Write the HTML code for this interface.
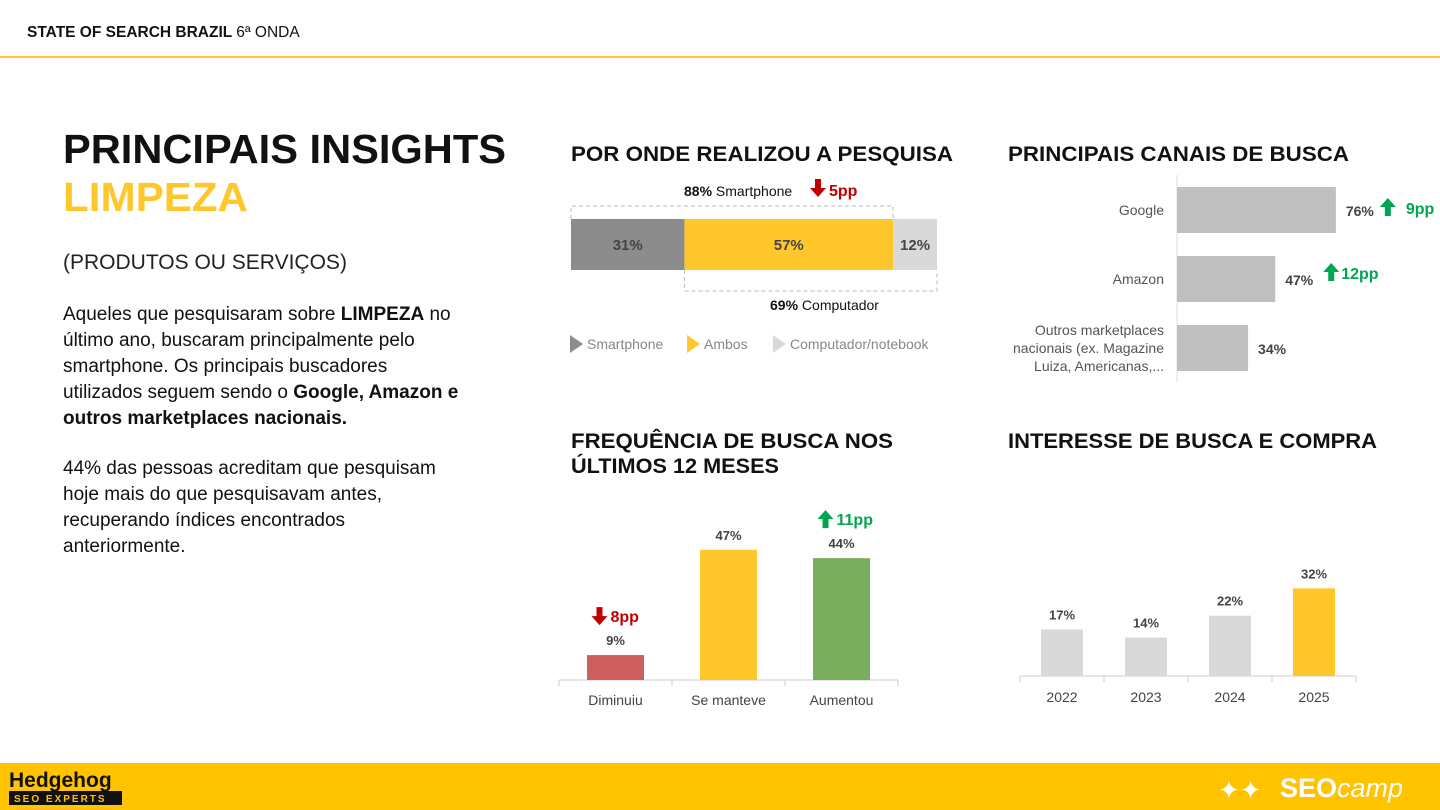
<!DOCTYPE html>
<html><head><meta charset="utf-8"><style>
html,body{margin:0;padding:0;background:#fff;width:1440px;height:810px;overflow:hidden}
svg{display:block;font-family:"Liberation Sans",sans-serif}
</style></head><body>
<svg id="s" width="1440" height="810" viewBox="0 0 1440 810" xmlns="http://www.w3.org/2000/svg">
<g>
<text x="27" y="37" font-size="15.5" font-weight="bold" fill="#111">STATE OF SEARCH BRAZIL <tspan font-weight="normal">6ª ONDA</tspan></text>
<rect x="0" y="56" width="1440" height="2" fill="#FFC72C"/>
</g>
<text x="63" y="163" font-size="41" font-weight="bold" fill="#111" textLength="443" lengthAdjust="spacingAndGlyphs">PRINCIPAIS INSIGHTS</text>
<text x="63" y="211" font-size="41" font-weight="bold" fill="#FFC72C" textLength="185" lengthAdjust="spacingAndGlyphs">LIMPEZA</text>
<text x="63" y="269" font-size="21" fill="#222">(PRODUTOS OU SERVIÇOS)</text>
<g font-size="19" fill="#111">
<text x="63" y="320">Aqueles que pesquisaram sobre <tspan font-weight="bold">LIMPEZA</tspan> no</text>
<text x="63" y="346">último ano, buscaram principalmente pelo</text>
<text x="63" y="372">smartphone. Os principais buscadores</text>
<text x="63" y="398">utilizados seguem sendo o <tspan font-weight="bold">Google, Amazon e</tspan></text>
<text x="63" y="424" font-weight="bold">outros marketplaces nacionais.</text>
<text x="63" y="474">44% das pessoas acreditam que pesquisam</text>
<text x="63" y="500">hoje mais do que pesquisavam antes,</text>
<text x="63" y="526">recuperando índices encontrados</text>
<text x="63" y="552">anteriormente.</text>
</g>
<g font-size="21" font-weight="bold" fill="#111">
<text x="571" y="161" textLength="382" lengthAdjust="spacingAndGlyphs">POR ONDE REALIZOU A PESQUISA</text>
<text x="1008" y="161" textLength="341" lengthAdjust="spacingAndGlyphs">PRINCIPAIS CANAIS DE BUSCA</text>
<text x="571" y="448" textLength="322" lengthAdjust="spacingAndGlyphs">FREQUÊNCIA DE BUSCA NOS</text>
<text x="571" y="473" textLength="208" lengthAdjust="spacingAndGlyphs">ÚLTIMOS 12 MESES</text>
<text x="1008" y="448" textLength="369" lengthAdjust="spacingAndGlyphs">INTERESSE DE BUSCA E COMPRA</text>
</g>
<g id="g1"></g><g id="g2"></g><g id="g3"></g><g id="g4"></g>
<g>
<rect x="0" y="763" width="1440" height="47" fill="#FFC300"/>
<text x="9" y="787" font-size="21" font-weight="bold" fill="#111">Hedgehog</text>
<rect x="9" y="791" width="113" height="14" fill="#111"/>
<text x="14" y="802" font-size="10" font-weight="bold" fill="#FFC300" letter-spacing="2">SEO EXPERTS</text>
<text x="1218" y="799" font-size="26" fill="#fff">✦✦</text>
<text x="1280" y="797" font-size="27" fill="#fff"><tspan font-weight="bold">SEO</tspan><tspan font-style="italic">camp</tspan></text>
</g>
</svg>
<script>
const NS="http://www.w3.org/2000/svg";
function mk(p,t,a,txt){const e=document.createElementNS(NS,t);for(const k in a)e.setAttribute(k,a[k]);if(txt!==undefined)e.textContent=txt;p.appendChild(e);return e;}
function arrow(p,x,y,up,col){const d=up?`M${x-3},${y+9} v-9 h-5 l8,-9 l8,9 h-5 v9 z`:`M${x-3},${y-9} v9 h-5 l8,9 l8,-9 h-5 v-9 z`;return mk(p,'path',{d:d,fill:col});}

// Device stacked bar
const deviceCats=["Smartphone","Ambos","Computador/notebook"];
const deviceVals=[31,57,12];
const deviceColors=["#8C8C8C","#FFC72C","#D9D9D9"];
// Channels
const channelCats=[["Google"],["Amazon"],["Outros marketplaces","nacionais (ex. Magazine","Luiza, Americanas,..."]];
const channelVals=[76,47,34];
const channelDelta=["9pp","12pp",""];
// Frequency
const freqCats=["Diminuiu","Se manteve","Aumentou"];
const freqVals=[9,47,44];
const freqColors=["#CD5F5F","#FFC72C","#7AAE5E"];
const freqDelta=["8pp","","11pp"];
const freqUp=[false,false,true];
// Interest
const yearCats=["2022","2023","2024","2025"];
const yearVals=[17,14,22,32];

const g1=document.getElementById('g1');


{const x0=571,w=366,y=219,h=51;const sx=v=>v/100*w;let cx=x0;
deviceVals.forEach((v,i)=>{const r=mk(g1,'rect',{x:cx,y:y,width:sx(v),height:h,fill:deviceColors[i]});


const t=mk(g1,'text',{x:cx+sx(v)/2,y:y+31,'font-size':15,'font-weight':'bold','text-anchor':'middle',fill:'#444'},v+'%');


cx+=sx(v);});
const sm=deviceVals[0]+deviceVals[1], co=deviceVals[1]+deviceVals[2];
mk(g1,'path',{d:`M${x0},${y} v-13 h${sx(sm)} v13`,fill:'none',stroke:'#bbb','stroke-dasharray':'4,3'});
mk(g1,'path',{d:`M${x0+sx(deviceVals[0])},${y+h} v21 h${sx(co)} v-21`,fill:'none',stroke:'#bbb','stroke-dasharray':'4,3'});
const a=mk(g1,'text',{x:684,y:196,'font-size':14,fill:'#111'});a.innerHTML=`<tspan font-weight="bold">${sm}%</tspan> Smartphone`;


arrow(g1,818,188,false,'#C00000');
mk(g1,'text',{x:829,y:196,'font-size':16,'font-weight':'bold',fill:'#C00000'},'5pp');
const b=mk(g1,'text',{x:770,y:310,'font-size':14,fill:'#111'});b.innerHTML=`<tspan font-weight="bold">${co}%</tspan> Computador`;


const lx=[570,687,773];
deviceCats.forEach((c,i)=>{const lg=mk(g1,'g',{});


mk(lg,'path',{d:`M${lx[i]},335 l13,9 l-13,9 z`,fill:deviceColors[i]});
mk(lg,'text',{x:lx[i]+17,y:349,'font-size':14,fill:'#888'},c);});}

const g2=document.getElementById('g2');


{const x0=1177,sx=v=>v*2.09,yc=[210,279,348],h=46;
mk(g2,'line',{x1:x0,y1:175,x2:x0,y2:382,stroke:'#ddd'});
channelVals.forEach((v,i)=>{const r=mk(g2,'rect',{x:x0,y:yc[i]-h/2,width:sx(v),height:h,fill:'#BFBFBF'});


const lines=channelCats[i];lines.forEach((l,j)=>mk(g2,'text',{x:1164,y:yc[i]+5+(j-(lines.length-1)/2)*18,'font-size':14,'text-anchor':'end',fill:'#555'},l));
const vt=mk(g2,'text',{x:x0+sx(v)+10,y:yc[i]+6,'font-size':14,'font-weight':'bold',fill:'#444'},v+'%');


if(channelDelta[i]){const dx=i==0?x0+sx(v)+44:x0+sx(v)+48;const dy=i==0?yc[i]-3:yc[i]-7;arrow(g2,dx+8,dy,true,'#00A550');
mk(g2,'text',{x:dx+ (i==0?26:18),y:dy+7,'font-size':16,'font-weight':'bold',fill:'#00A550'},channelDelta[i]);}});}

const g3=document.getElementById('g3');


{const base=680,x0=559,cw=113,bw=57,sy=v=>v*2.77;
mk(g3,'line',{x1:x0,y1:base,x2:x0+3*cw,y2:base,stroke:'#ccc'});
for(let i=0;i<=3;i++)mk(g3,'line',{x1:x0+i*cw,y1:base,x2:x0+i*cw,y2:base+6,stroke:'#ccc'});
freqVals.forEach((v,i)=>{const cx=x0+cw*i+cw/2;const r=mk(g3,'rect',{x:cx-bw/2,y:base-sy(v),width:bw,height:sy(v),fill:freqColors[i]});


mk(g3,'text',{x:cx,y:base-sy(v)-10,'font-size':13,'font-weight':'bold','text-anchor':'middle',fill:'#444'},v+'%');
mk(g3,'text',{x:cx,y:705,'font-size':14,'text-anchor':'middle',fill:'#444'},freqCats[i]);
if(freqDelta[i]){const col=freqUp[i]?'#00A550':'#C00000';const ty=base-sy(v)-33;arrow(g3,cx-16,ty-6,freqUp[i],col);
mk(g3,'text',{x:cx-5,y:ty,'font-size':16,'font-weight':'bold',fill:col},freqDelta[i]);}});}

const g4=document.getElementById('g4');


{const base=676,x0=1020,cw=84,bw=42,sy=v=>v*2.74;
mk(g4,'line',{x1:x0,y1:base,x2:x0+4*cw,y2:base,stroke:'#ccc'});
for(let i=0;i<=4;i++)mk(g4,'line',{x1:x0+i*cw,y1:base,x2:x0+i*cw,y2:base+6,stroke:'#ccc'});
yearVals.forEach((v,i)=>{const cx=x0+cw*i+cw/2;const last=i==yearVals.length-1;const r=mk(g4,'rect',{x:cx-bw/2,y:base-sy(v),width:bw,height:sy(v),fill:last?'#FFC72C':'#D9D9D9'});


mk(g4,'text',{x:cx,y:base-sy(v)-10,'font-size':13,'font-weight':'bold','text-anchor':'middle',fill:'#444'},v+'%');
mk(g4,'text',{x:cx,y:702,'font-size':14,'text-anchor':'middle',fill:'#444'},yearCats[i]);});}
</script>
</body></html>
